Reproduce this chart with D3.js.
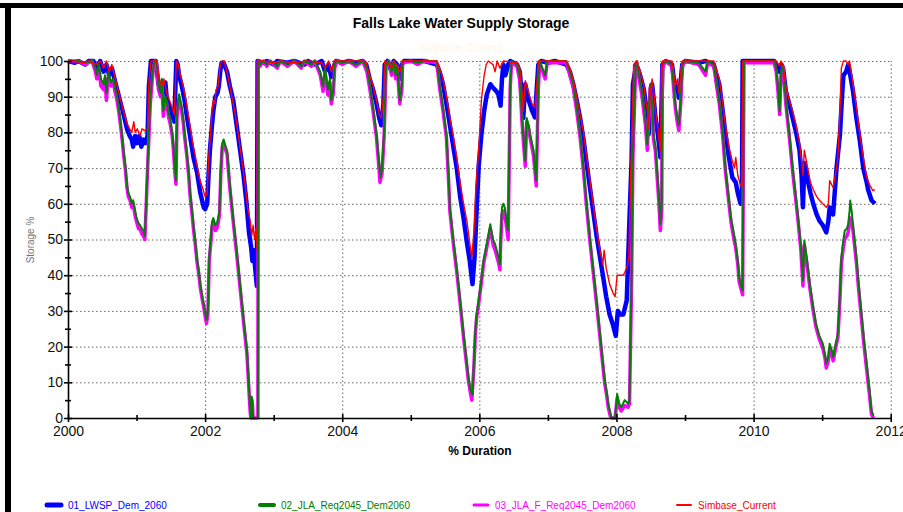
<!DOCTYPE html>
<html lang="en">
<head>
<meta charset="UTF-8">
<title>Falls Lake Water Supply Storage</title>
<script src="https://d3js.org/d3.v7.min.js" charset="utf-8"></script>
<style>
    body { margin: 0; background: #fff; }
    svg { display: block; font-family: "Liberation Sans", Arial, sans-serif; }
    .grid line { stroke: #666; stroke-dasharray: 1.5, 2.5; }
    .grid path { display: none; }
    .axis path, .axis line { stroke: #000; stroke-width: 1.6; }
</style>
</head>
<body>
<div id="chart"></div>
<script>

// storage % over time, [year, value]
var lwspDem2060 = [
    [2000.00,100],[2000.10,99.5],[2000.15,100],[2000.25,99],[2000.30,100],[2000.37,100],[2000.42,98],[2000.47,100],[2000.52,97],[2000.56,99],
    [2000.60,96],[2000.64,98],[2000.69,94],[2000.73,91],[2000.77,88],[2000.81,85],[2000.86,81],[2000.90,79],[2000.93,78],[2000.95,76],
    [2000.98,79],[2001.01,77],[2001.04,79],[2001.07,76],[2001.10,78],[2001.13,77],[2001.16,79],[2001.18,93],[2001.21,100],[2001.28,100],
    [2001.32,93.5],[2001.36,92],[2001.39,91.5],[2001.42,94],[2001.44,89.5],[2001.48,87],[2001.52,85],[2001.55,83],[2001.58,100],[2001.60,99],
    [2001.62,96],[2001.66,93],[2001.70,89],[2001.73,85],[2001.78,79],[2001.83,73],[2001.88,69],[2001.93,63],[2001.98,59],[2002.00,58.5],
    [2002.03,60],[2002.05,68],[2002.07,75],[2002.10,82],[2002.12,86],[2002.15,90],[2002.18,91],[2002.20,93],[2002.22,97],[2002.24,99.5],
    [2002.27,99.5],[2002.32,97],[2002.36,93],[2002.41,89],[2002.46,82],[2002.51,75],[2002.56,68],[2002.60,61],[2002.64,52],[2002.67,48],
    [2002.69,44],[2002.71,47],[2002.73,42],[2002.755,37],[2002.765,100],[2002.85,99.5],[2002.9,100],[2003.0,99],[2003.05,100],[2003.2,99.5],
    [2003.3,100],[2003.45,99],[2003.5,100],[2003.6,99],[2003.7,100],[2003.75,97],[2003.80,99],[2003.84,95.5],[2003.87,98],[2003.91,100],
    [2004.0,99.5],[2004.1,100],[2004.2,99.5],[2004.3,100],[2004.35,99],[2004.40,95],[2004.45,92],[2004.50,88],[2004.54,84],[2004.57,82],
    [2004.60,88],[2004.62,99],[2004.66,100],[2004.72,97],[2004.75,100],[2004.80,99],[2004.84,95],[2004.87,99],[2004.9,100],[2005.2,100],
    [2005.38,99],[2005.42,97],[2005.47,93.5],[2005.52,88],[2005.57,82],[2005.62,76],[2005.67,70],[2005.72,62],[2005.77,56],[2005.82,49],
    [2005.86,44],[2005.90,37.5],[2005.93,45],[2005.96,58],[2005.99,70.5],[2006.03,79.5],[2006.07,86],[2006.11,90.7],[2006.16,93.5],[2006.20,92.5],
    [2006.25,91.5],[2006.28,90.5],[2006.31,87.5],[2006.33,95],[2006.35,99],[2006.38,96],[2006.42,99],[2006.45,100],[2006.55,99],[2006.59,97],
    [2006.62,90],[2006.64,84],[2006.67,93.5],[2006.72,89],[2006.77,86],[2006.81,84.2],[2006.84,93],[2006.86,99],[2006.9,100],[2007.0,99.5],
    [2007.1,100],[2007.27,99],[2007.32,97],[2007.37,93.5],[2007.42,89],[2007.47,84],[2007.52,78],[2007.56,72],[2007.61,65],[2007.66,58],
    [2007.71,51],[2007.76,45],[2007.81,39],[2007.85,34],[2007.90,29],[2007.95,26],[2007.99,23],[2008.02,30],[2008.05,29],[2008.10,29],
    [2008.15,33],[2008.19,56],[2008.22,72],[2008.24,93.5],[2008.29,99],[2008.32,97.5],[2008.35,95.7],[2008.40,92],[2008.42,89],[2008.45,85],
    [2008.47,79.5],[2008.49,88],[2008.52,93.5],[2008.55,88],[2008.57,84],[2008.60,80],[2008.62,76.7],[2008.64,73],[2008.67,99],[2008.72,100],
    [2008.81,99],[2008.86,91.6],[2008.89,93],[2008.91,89.7],[2008.94,95],[2008.96,99],[2009.0,100],[2009.2,99.5],[2009.3,100],[2009.42,99],
    [2009.46,96],[2009.50,93.5],[2009.55,86],[2009.59,79.5],[2009.64,73],[2009.69,67.4],[2009.74,66],[2009.77,63],[2009.81,60],[2009.83,61],
    [2009.84,100],[2010.3,100],[2010.33,99],[2010.38,97],[2010.40,99],[2010.43,98],[2010.47,91.6],[2010.52,88],[2010.57,84],[2010.62,80],
    [2010.67,75],[2010.70,68],[2010.72,59],[2010.74,71.4],[2010.79,66.5],[2010.83,63],[2010.87,60],[2010.92,57],[2010.96,55.3],[2011.01,54],
    [2011.06,52],[2011.09,55],[2011.11,59],[2011.16,57],[2011.21,70],[2011.26,79.5],[2011.29,90],[2011.31,96],[2011.35,97],[2011.38,99],
    [2011.40,97.2],[2011.45,91.6],[2011.50,84],[2011.55,77.6],[2011.60,70],[2011.65,66],[2011.67,64],[2011.72,61],[2011.77,60]
];

var jlaReq2045Dem2060 = [
    [2000.00,100],[2000.15,100],[2000.25,99.5],[2000.35,100],[2000.40,98],[2000.42,96],[2000.45,99],[2000.48,95],[2000.52,93.5],[2000.54,96],
    [2000.56,91],[2000.59,97],[2000.63,94],[2000.66,95],[2000.69,92],[2000.71,90.7],[2000.74,87],[2000.76,84],[2000.79,79],[2000.81,75],
    [2000.84,70],[2000.86,65.5],[2000.88,63],[2000.905,62],[2000.93,60],[2000.95,61],[2000.98,58],[2001.00,56],[2001.03,54.5],[2001.05,54],
    [2001.08,53],[2001.10,52.5],[2001.12,51],[2001.14,60],[2001.15,65.5],[2001.17,75],[2001.20,89],[2001.23,96],[2001.25,99],[2001.27,100],
    [2001.29,100],[2001.32,93.5],[2001.35,91],[2001.37,95],[2001.39,86],[2001.42,90],[2001.44,89],[2001.47,85],[2001.49,84],[2001.52,80],
    [2001.54,76],[2001.56,70],[2001.575,66.5],[2001.59,85],[2001.61,89],[2001.62,90.7],[2001.65,88],[2001.68,84],[2001.70,80],[2001.73,75],
    [2001.76,69],[2001.78,63.6],[2001.81,58],[2001.83,54],[2001.86,49],[2001.88,45],[2001.91,41],[2001.93,37.5],[2001.96,34],[2001.98,32],
    [2002.00,30],[2002.02,27.5],[2002.04,30],[2002.06,45],[2002.08,49.7],[2002.10,55],[2002.12,56],[2002.15,54],[2002.17,54.3],[2002.19,56],
    [2002.21,58],[2002.23,70],[2002.25,77],[2002.27,78],[2002.30,76],[2002.32,75],[2002.36,65.5],[2002.41,56],[2002.46,47],[2002.51,37.5],
    [2002.56,28],[2002.61,19],[2002.63,12],[2002.65,5],[2002.66,2],[2002.67,0],[2002.68,6],[2002.69,5],[2002.70,0],[2002.77,0],
    [2002.775,100],[2002.80,99],[2002.85,100],[2002.9,99],[2002.95,100],[2003.05,98.5],[2003.1,100],[2003.2,99],[2003.3,100],[2003.4,98.5],
    [2003.45,100],[2003.55,99],[2003.6,100],[2003.68,97],[2003.72,93],[2003.75,98],[2003.79,92],[2003.82,95],[2003.84,89],[2003.87,92],
    [2003.89,99],[2003.92,100],[2004.0,99.5],[2004.1,100],[2004.2,99],[2004.3,100],[2004.36,98],[2004.40,93.5],[2004.45,87],[2004.50,79.5],
    [2004.53,73],[2004.56,67.4],[2004.58,70],[2004.61,79.5],[2004.64,99],[2004.68,100],[2004.72,97],[2004.75,100],[2004.78,96],[2004.80,99],
    [2004.84,89],[2004.87,93],[2004.88,100],[2005.0,100],[2005.1,99.5],[2005.2,100],[2005.38,100],[2005.42,93.5],[2005.47,87],[2005.52,79.5],
    [2005.55,68],[2005.57,59],[2005.62,50],[2005.67,42],[2005.72,33],[2005.77,23.6],[2005.82,15],[2005.84,11.5],[2005.87,8],[2005.90,6.5],
    [2005.92,15],[2005.94,24],[2005.96,29],[2005.99,33],[2006.03,39],[2006.06,44],[2006.11,49],[2006.16,54.3],[2006.18,52],[2006.20,50],
    [2006.23,48.7],[2006.28,45],[2006.30,43],[2006.31,50],[2006.33,59],[2006.35,60],[2006.37,59],[2006.40,55],[2006.42,52.5],[2006.44,80],
    [2006.45,93.5],[2006.47,100],[2006.55,99],[2006.59,95.7],[2006.62,85],[2006.67,72],[2006.69,84],[2006.72,82],[2006.74,79.5],[2006.79,75],
    [2006.83,66.5],[2006.86,93.5],[2006.88,100],[2006.96,96],[2006.99,100],[2007.27,100],[2007.32,97],[2007.37,93.5],[2007.42,87],[2007.47,79.5],
    [2007.52,70],[2007.56,61],[2007.61,51],[2007.66,42],[2007.71,33],[2007.76,23.6],[2007.80,16],[2007.83,10.5],[2007.86,7],[2007.88,4],
    [2007.91,1.5],[2007.93,0],[2007.98,0],[2008.01,6.7],[2008.04,4],[2008.07,3],[2008.12,5],[2008.17,4],[2008.19,5],[2008.22,39],
    [2008.24,75],[2008.28,99],[2008.30,100],[2008.32,97],[2008.37,91.6],[2008.42,84],[2008.45,76.7],[2008.49,93.5],[2008.52,88],[2008.54,79.5],
    [2008.57,76],[2008.59,70],[2008.62,62],[2008.64,54.3],[2008.66,60],[2008.67,99],[2008.72,100],[2008.81,99],[2008.84,92],[2008.86,88],
    [2008.89,84],[2008.91,82],[2008.94,90],[2008.96,99],[2009.0,100],[2009.2,99.5],[2009.30,97],[2009.33,100],[2009.42,99],[2009.46,94],
    [2009.50,89],[2009.55,80],[2009.59,70],[2009.63,63],[2009.67,56],[2009.70,53],[2009.74,48.7],[2009.77,44],[2009.79,39.4],[2009.82,37],
    [2009.84,35.7],[2009.86,100],[2010.3,100],[2010.33,98],[2010.36,92],[2010.38,86],[2010.40,97],[2010.43,99],[2010.47,89],[2010.52,80],
    [2010.57,70],[2010.61,63],[2010.65,56],[2010.69,48],[2010.72,38.5],[2010.74,49.7],[2010.78,44],[2010.82,37.6],[2010.87,31],[2010.91,26.4],
    [2010.96,23],[2011.01,20.8],[2011.04,18],[2011.06,15.2],[2011.09,17],[2011.11,20.8],[2011.14,19],[2011.16,17],[2011.20,21],[2011.23,23.6],
    [2011.26,35],[2011.28,45],[2011.31,50],[2011.33,52.5],[2011.36,53],[2011.38,54.3],[2011.40,58],[2011.41,60.9],[2011.43,58],[2011.45,54.3],
    [2011.50,45],[2011.53,38],[2011.57,30],[2011.61,22],[2011.65,15.2],[2011.69,8],[2011.72,2],[2011.75,0.7]
];

var jlaFReq2045Dem2060 = [
    [2000.00,100],[2000.15,100],[2000.25,99],[2000.35,100],[2000.40,97],[2000.42,95],[2000.45,98],[2000.48,93],[2000.52,92],[2000.54,95],
    [2000.56,89],[2000.59,96],[2000.63,93],[2000.66,94],[2000.69,91],[2000.71,89.5],[2000.74,86],[2000.76,83],[2000.79,78],[2000.81,74],
    [2000.84,69],[2000.86,64.5],[2000.88,62],[2000.905,61],[2000.93,59],[2000.95,60],[2000.98,56.5],[2001.00,55],[2001.03,53],[2001.05,53],
    [2001.08,51.5],[2001.10,51],[2001.12,50],[2001.14,59],[2001.15,64.5],[2001.17,74],[2001.20,88],[2001.23,95],[2001.25,98.5],[2001.27,100],
    [2001.29,99.5],[2001.32,92],[2001.35,90],[2001.37,94],[2001.39,84.5],[2001.42,89],[2001.44,88],[2001.47,84],[2001.49,82.5],[2001.52,79],
    [2001.54,74.5],[2001.56,68.5],[2001.575,65.5],[2001.59,84],[2001.61,88],[2001.62,89.5],[2001.65,87],[2001.68,83],[2001.70,79],[2001.73,74],
    [2001.76,68],[2001.78,62.5],[2001.81,57],[2001.83,53],[2001.86,48],[2001.88,44],[2001.91,40],[2001.93,36.5],[2001.96,33],[2001.98,31],
    [2002.00,28.5],[2002.02,26.5],[2002.04,29],[2002.06,44],[2002.08,48.5],[2002.10,53.5],[2002.12,55],[2002.15,52.5],[2002.17,53],[2002.19,54.5],
    [2002.21,57],[2002.23,69],[2002.25,76],[2002.27,77],[2002.30,75],[2002.32,74],[2002.36,64.5],[2002.41,55],[2002.46,46],[2002.51,36.5],
    [2002.56,27],[2002.61,18],[2002.63,11],[2002.65,4],[2002.66,1],[2002.67,0],[2002.68,5],[2002.69,4],[2002.70,0],[2002.77,0],
    [2002.775,100],[2002.80,98.5],[2002.85,100],[2002.9,98.5],[2002.95,100],[2003.05,98],[2003.1,100],[2003.2,98.5],[2003.3,100],[2003.4,98],
    [2003.45,100],[2003.55,98.5],[2003.6,100],[2003.68,96],[2003.72,91.5],[2003.75,97],[2003.79,90.5],[2003.82,94],[2003.84,88],[2003.87,91],
    [2003.89,98],[2003.92,100],[2004.0,99],[2004.1,100],[2004.2,98.5],[2004.3,100],[2004.36,97],[2004.40,92.5],[2004.45,86],[2004.50,78.5],
    [2004.53,71.5],[2004.55,66],[2004.58,68.5],[2004.61,78.5],[2004.64,98.5],[2004.68,100],[2004.72,96],[2004.75,99.5],[2004.78,95],[2004.80,98.5],
    [2004.84,88],[2004.87,92],[2004.88,99.5],[2005.0,100],[2005.1,99],[2005.2,100],[2005.38,99.5],[2005.42,92.5],[2005.47,86],[2005.52,78.5],
    [2005.55,67],[2005.57,58],[2005.62,49],[2005.67,41],[2005.72,32],[2005.77,22.5],[2005.82,14],[2005.84,10.5],[2005.87,7],[2005.89,5],
    [2005.92,14],[2005.94,23],[2005.96,28],[2005.99,32],[2006.03,38],[2006.06,43],[2006.11,48],[2006.16,53],[2006.18,51],[2006.20,48.5],
    [2006.23,47],[2006.28,43.5],[2006.30,41.5],[2006.31,48.5],[2006.33,57],[2006.35,58],[2006.37,57],[2006.40,53],[2006.42,50],[2006.44,78],
    [2006.45,92.5],[2006.47,99.5],[2006.55,98.5],[2006.59,94.5],[2006.62,83.5],[2006.67,70.5],[2006.69,83],[2006.72,81],[2006.74,78.5],[2006.79,73.5],
    [2006.83,65],[2006.86,92],[2006.88,99.5],[2006.96,95],[2006.99,99.5],[2007.27,99.5],[2007.32,96],[2007.37,92.5],[2007.42,86],[2007.47,78.5],
    [2007.52,69],[2007.56,60],[2007.61,50],[2007.66,41],[2007.71,32],[2007.76,22.5],[2007.80,15],[2007.83,9.5],[2007.86,6],[2007.88,3],
    [2007.91,0.5],[2007.93,0],[2007.98,0],[2008.01,5.5],[2008.04,3],[2008.07,2],[2008.12,3.5],[2008.17,3],[2008.19,4],[2008.22,37],
    [2008.24,73],[2008.28,98],[2008.30,99.5],[2008.32,96],[2008.37,90.5],[2008.42,82.5],[2008.45,75],[2008.49,92.5],[2008.52,87],[2008.54,78],
    [2008.57,74.5],[2008.59,68.5],[2008.62,60],[2008.64,52.5],[2008.66,58],[2008.67,98],[2008.72,100],[2008.81,98.5],[2008.84,91],[2008.86,86.5],
    [2008.89,82.5],[2008.91,80.5],[2008.94,89],[2008.96,98.5],[2009.0,100],[2009.2,99],[2009.30,96],[2009.33,99.5],[2009.42,98.5],[2009.46,93],
    [2009.50,88],[2009.55,79],[2009.59,69],[2009.63,62],[2009.67,55],[2009.70,51.5],[2009.74,47.5],[2009.77,43],[2009.79,38],[2009.82,36],
    [2009.84,34.5],[2009.86,99.5],[2010.3,99.5],[2010.33,97],[2010.36,90.5],[2010.38,85],[2010.40,96],[2010.43,98.5],[2010.47,88],[2010.52,79],
    [2010.57,69],[2010.61,62],[2010.65,55],[2010.69,47],[2010.72,37],[2010.74,48.5],[2010.78,43],[2010.82,36.5],[2010.87,30],[2010.91,25.5],
    [2010.96,22],[2011.01,19.5],[2011.04,17],[2011.06,14],[2011.09,16],[2011.11,19.5],[2011.14,18],[2011.16,16],[2011.20,20],[2011.23,22.5],
    [2011.26,33.5],[2011.28,43],[2011.31,48],[2011.33,50],[2011.36,51],[2011.38,52],[2011.40,55],[2011.41,56],[2011.43,55],[2011.45,52.5],
    [2011.50,43.5],[2011.53,36.5],[2011.57,28.5],[2011.61,20.5],[2011.65,13.5],[2011.69,6.5],[2011.72,1],[2011.75,0]
];

var simbaseCurrent = [
    [2000.00,100],[2000.10,100],[2000.20,99.5],[2000.30,100],[2000.42,99],[2000.47,100],[2000.52,98],[2000.56,100],[2000.60,97],[2000.64,99],
    [2000.69,95],[2000.73,92],[2000.77,89],[2000.81,86],[2000.86,82.5],[2000.90,81],[2000.93,80],[2000.96,83],[2000.98,80],[2001.01,81],
    [2001.05,79],[2001.08,81],[2001.12,80.5],[2001.16,81],[2001.18,94],[2001.21,100],[2001.29,100],[2001.33,95],[2001.37,93],[2001.40,95],
    [2001.44,91],[2001.48,89],[2001.52,87],[2001.55,85],[2001.58,100],[2001.61,99],[2001.64,96],[2001.68,93],[2001.72,89],[2001.77,83],
    [2001.82,77],[2001.87,72],[2001.92,67],[2001.97,64],[2002.00,62],[2002.03,63],[2002.05,72],[2002.08,80],[2002.10,86],[2002.12,89],
    [2002.14,88],[2002.16,92],[2002.19,93],[2002.22,99],[2002.25,100],[2002.28,100],[2002.33,96],[2002.38,91],[2002.43,86],[2002.48,80],
    [2002.53,73],[2002.58,66],[2002.62,59],[2002.66,55],[2002.68,51],[2002.70,54],[2002.72,50],[2002.74,53],[2002.76,47],[2002.765,100],
    [2002.85,100],[2003.0,99.5],[2003.1,100],[2003.3,99.5],[2003.5,100],[2003.7,99.5],[2003.75,98],[2003.80,100],[2003.84,97],[2003.88,100],
    [2004.0,100],[2004.3,100],[2004.35,99.5],[2004.40,96],[2004.45,93],[2004.50,89],[2004.54,85],[2004.57,84],[2004.60,90],[2004.62,100],
    [2004.72,98],[2004.76,100],[2004.84,97],[2004.88,100],[2005.38,100],[2005.42,98],[2005.47,95],[2005.52,90],[2005.57,84],[2005.62,79],
    [2005.67,73],[2005.72,66],[2005.77,60],[2005.82,55],[2005.86,49],[2005.89,45],[2005.92,52],[2005.95,65],[2005.99,75],[2006.03,89],
    [2006.07,96],[2006.10,99],[2006.13,100],[2006.20,99],[2006.23,97],[2006.26,100],[2006.30,98],[2006.35,100],[2006.55,99.5],[2006.59,98],
    [2006.62,92],[2006.64,86],[2006.67,94.5],[2006.72,91],[2006.77,88],[2006.81,87],[2006.84,94],[2006.86,100],[2007.27,100],[2007.32,98],
    [2007.37,95],[2007.42,90],[2007.47,85],[2007.52,80],[2007.56,74],[2007.61,67],[2007.66,60],[2007.71,53],[2007.76,47],[2007.80,43],
    [2007.82,47],[2007.85,42],[2007.90,37.5],[2007.95,35],[2007.98,34],[2008.01,40],[2008.05,40],[2008.10,40],[2008.15,42],[2008.18,45],
    [2008.21,70],[2008.23,84],[2008.25,99],[2008.29,100],[2008.32,98],[2008.35,97],[2008.40,93],[2008.42,90],[2008.45,86],[2008.47,81],
    [2008.49,90],[2008.52,95],[2008.55,90],[2008.57,86],[2008.60,82],[2008.62,78],[2008.64,75],[2008.67,100],[2008.81,100],[2008.86,93],
    [2008.89,95],[2008.91,91],[2008.94,97],[2008.96,100],[2009.42,100],[2009.46,97.5],[2009.50,95],[2009.55,88],[2009.59,82],[2009.64,76],
    [2009.69,72],[2009.72,70],[2009.74,73],[2009.77,68],[2009.81,65],[2009.83,65],[2009.84,100],[2010.33,100],[2010.38,98.5],[2010.40,100],
    [2010.43,99],[2010.47,93],[2010.52,89],[2010.57,86],[2010.62,82],[2010.67,77],[2010.70,72],[2010.72,68],[2010.74,75],[2010.79,70],
    [2010.83,66],[2010.87,64],[2010.92,62],[2010.96,61],[2011.01,60],[2011.06,59],[2011.09,60],[2011.11,66.5],[2011.16,64.5],[2011.21,70],
    [2011.23,73],[2011.26,86],[2011.28,98],[2011.31,100],[2011.35,100],[2011.38,99],[2011.40,100],[2011.45,93.5],[2011.50,87],[2011.55,79.5],
    [2011.60,73],[2011.65,67.4],[2011.70,65],[2011.74,63.7],[2011.77,64]
];

var seriesNames = ['01_LWSP_Dem_2060', '02_JLA_Req2045_Dem2060', '03_JLA_F_Req2045_Dem2060', 'Simbase_Current'];
var yTicks = [0, 10, 20, 30, 40, 50, 60, 70, 80, 90, 100];
var yMinorTicks = [5, 15, 25, 35, 45, 55, 65, 75, 85, 95];
var xTicks = [2000, 2002, 2004, 2006, 2008, 2010, 2012];
var xMinorTicks = [2001, 2003, 2005, 2007, 2009, 2011];

var svgWidth = 903;
var svgHeight = 512;

var svg = d3.select('#chart')
            .append('svg')
            .attr('width', svgWidth)
            .attr('height', svgHeight);

// window frame (black bars at top and left)
svg.append('rect').attr('x', 0).attr('y', 3).attr('width', svgWidth).attr('height', 5).attr('fill', '#000');
svg.append('rect').attr('x', 5).attr('y', 3).attr('width', 6).attr('height', svgHeight).attr('fill', '#000');

var x = d3.scaleLinear().domain([2000, 2012]).range([68, 890.7]);
var y = d3.scaleLinear().domain([0, 100]).range([418, 61]);

// grid
svg.append('g')
    .attr('class', 'grid')
    .attr('transform', 'translate(0,' + y(0) + ')')
    .call(d3.axisBottom(x).tickValues(xTicks.slice(1)).tickSize(-(y(0) - y(100))).tickFormat(''));
svg.append('g')
    .attr('class', 'grid')
    .attr('transform', 'translate(' + x(2000) + ',0)')
    .call(d3.axisLeft(y).tickValues(yTicks.slice(1)).tickSize(-(x(2012) - x(2000))).tickFormat(''));

// series lines, drawn in the order that leaves green above magenta and red on top
var line = d3.line().x(function(d) { return x(d[0]); }).y(function(d) { return y(d[1]); });
var seriesData = [lwspDem2060, jlaReq2045Dem2060, jlaFReq2045Dem2060, simbaseCurrent];
var colors = ['#0000ff', '#008000', '#ff00ff', '#ff0000'];
var widths = [4.5, 2, 3.5, 1.4];
var drawOrder = [0, 2, 1, 3];

drawOrder.forEach(function(i) {
    svg.append('path')
        .datum(seriesData[i])
        .attr('fill', 'none')
        .attr('stroke', colors[i])
        .attr('stroke-width', widths[i])
        .attr('stroke-linejoin', 'round')
        .attr('d', line);
});

// y axis
var yAxisG = svg.append('g')
    .attr('class', 'axis')
    .attr('transform', 'translate(' + x(2000) + ',0)')
    .call(d3.axisLeft(y).tickValues(yTicks).tickSize(4).tickPadding(1).tickSizeOuter(0));
yAxisG.selectAll('.tick line').attr('x1', 4);
yAxisG.selectAll('text').style('font-size', '14px').attr('fill', '#111');

var yMinor = svg.append('g')
    .attr('class', 'axis')
    .attr('transform', 'translate(' + x(2000) + ',0)')
    .call(d3.axisLeft(y).tickValues(yMinorTicks).tickSize(3).tickFormat(''));
yMinor.select('.domain').remove();
yMinor.selectAll('.tick line').attr('x1', 3);

// x axis
var xAxisG = svg.append('g')
    .attr('class', 'axis')
    .attr('transform', 'translate(0,' + y(0) + ')')
    .call(d3.axisBottom(x).tickValues(xTicks).tickSize(4).tickPadding(4).tickSizeOuter(0).tickFormat(d3.format('d')));
xAxisG.selectAll('.tick line').attr('y1', -4);
xAxisG.selectAll('text').style('font-size', '14px').attr('fill', '#111');

var xMinor = svg.append('g')
    .attr('class', 'axis')
    .attr('transform', 'translate(0,' + y(0) + ')')
    .call(d3.axisBottom(x).tickValues(xMinorTicks).tickSize(3).tickFormat(''));
xMinor.select('.domain').remove();
xMinor.selectAll('.tick line').attr('y1', -3);

// titles
svg.append('text')
    .attr('x', 461).attr('y', 28)
    .attr('text-anchor', 'middle')
    .style('font-size', '14px').style('font-weight', 'bold')
    .text('Falls Lake Water Supply Storage');

svg.append('text')
    .attr('x', 461).attr('y', 51)
    .attr('text-anchor', 'middle')
    .style('font-size', '10px').style('font-weight', 'bold')
    .attr('fill', '#fff7ec')
    .text('Simbase_Current');

svg.append('text')
    .attr('x', 480).attr('y', 455)
    .attr('text-anchor', 'middle')
    .style('font-size', '12px').style('font-weight', 'bold')
    .text('% Duration');

svg.append('text')
    .attr('transform', 'translate(34,240) rotate(-90)')
    .attr('text-anchor', 'middle')
    .style('font-size', '10px')
    .attr('fill', '#777')
    .text('Storage %');

// legend
var legendX = [45, 258, 472, 675];
var legendW = [5, 4, 3, 2];
var legend = svg.selectAll('.legend')
    .data(seriesNames)
    .enter()
    .append('g')
    .attr('class', 'legend')
    .attr('transform', function(d, i) { return 'translate(' + legendX[i] + ',505)'; });

legend.append('line')
    .attr('x1', 2).attr('x2', 16)
    .attr('stroke', function(d, i) { return colors[i]; })
    .attr('stroke-width', function(d, i) { return legendW[i]; })
    .attr('stroke-linecap', 'round');

legend.append('text')
    .attr('x', 23).attr('y', 4)
    .style('font-family', '"Liberation Sans Narrow", "Arial Narrow", "Liberation Sans", sans-serif')
    .style('font-size', '10px')
    .attr('fill', function(d, i) { return colors[i]; })
    .text(function(d) { return d; });

</script>
</body>
</html>
